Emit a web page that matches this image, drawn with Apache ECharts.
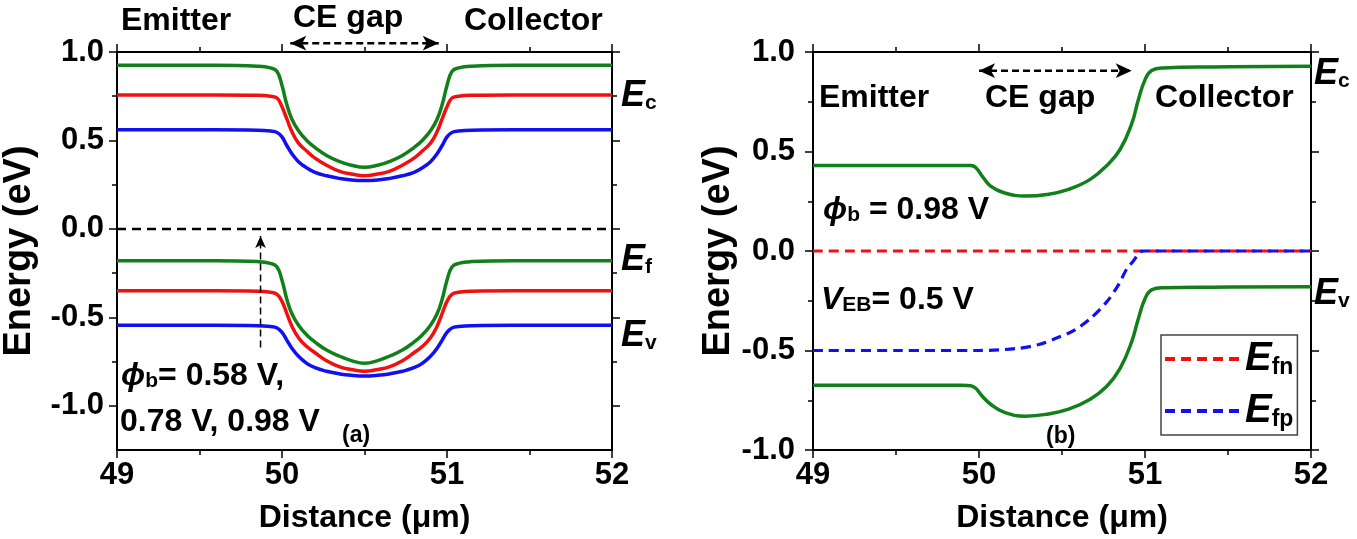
<!DOCTYPE html>
<html>
<head>
<meta charset="utf-8">
<script src="https://cdn.jsdelivr.net/npm/echarts@6/dist/echarts.min.js"></script>
<style>html,body{margin:0;padding:0;background:#fff}#chart{width:1357px;height:539px}</style>
</head>
<body>
<div id="chart"></div>
<script>
// ---- panel (a): bands for phi_b = 0.58 / 0.78 / 0.98 V ----
var xA = [49.0, 49.6, 49.85, 49.93, 49.97, 50.0, 50.03, 50.06, 50.1, 50.15, 50.2, 50.27, 50.35, 50.42, 50.5,
          50.58, 50.65, 50.73, 50.8, 50.85, 50.9, 50.94, 50.97, 51.0, 51.03, 51.07, 51.15, 51.4, 52.0];
var ecGreenA = [0.925, 0.925, 0.92, 0.91, 0.89, 0.81, 0.70, 0.62, 0.555, 0.50, 0.46, 0.415, 0.38, 0.36, 0.348,
                0.36, 0.38, 0.415, 0.46, 0.50, 0.555, 0.62, 0.70, 0.81, 0.89, 0.91, 0.92, 0.925, 0.925];
var ecRedA = [0.757, 0.757, 0.755, 0.75, 0.74, 0.69, 0.62, 0.55, 0.485, 0.44, 0.40, 0.36, 0.325, 0.31, 0.30,
              0.31, 0.325, 0.36, 0.40, 0.44, 0.485, 0.55, 0.62, 0.69, 0.74, 0.75, 0.755, 0.757, 0.757];
var ecBlueA = [0.56, 0.56, 0.558, 0.553, 0.545, 0.52, 0.47, 0.425, 0.38, 0.345, 0.32, 0.30, 0.285, 0.277, 0.274,
               0.277, 0.285, 0.30, 0.32, 0.345, 0.38, 0.425, 0.47, 0.52, 0.545, 0.553, 0.558, 0.56, 0.56];
var evGreenA = [-0.18, -0.18, -0.185, -0.195, -0.215, -0.29, -0.40, -0.48, -0.545, -0.60, -0.64, -0.685, -0.72, -0.745, -0.76,
                -0.745, -0.72, -0.685, -0.64, -0.60, -0.545, -0.48, -0.40, -0.29, -0.215, -0.195, -0.185, -0.18, -0.18];
var evRedA = [-0.35, -0.35, -0.352, -0.358, -0.37, -0.41, -0.48, -0.55, -0.615, -0.665, -0.70, -0.745, -0.78, -0.795, -0.805,
              -0.795, -0.78, -0.745, -0.70, -0.665, -0.615, -0.55, -0.48, -0.41, -0.37, -0.358, -0.352, -0.35, -0.35];
var evBlueA = [-0.545, -0.545, -0.547, -0.552, -0.56, -0.585, -0.63, -0.675, -0.72, -0.76, -0.785, -0.805, -0.82, -0.828, -0.832,
               -0.828, -0.82, -0.805, -0.785, -0.76, -0.72, -0.675, -0.63, -0.585, -0.56, -0.552, -0.547, -0.545, -0.545];
var efX = [49, 52];
var efY = [0, 0];
var gapArrowA = [[50.05, 1.05], [50.95, 1.05]];
var phiArrowA = [[49.87, -0.67], [49.87, -0.04]];

// ---- panel (b): phi_b = 0.98 V, V_EB = 0.5 V ----
var xB = [49.0, 49.5, 49.9, 49.95, 49.98, 50.02, 50.07, 50.15, 50.28, 50.41, 50.54, 50.67, 50.77, 50.85, 50.92,
          50.96, 51.0, 51.04, 51.11, 51.4, 52.0];
var ecB = [0.43, 0.43, 0.43, 0.43, 0.42, 0.375, 0.326, 0.293, 0.276, 0.284, 0.31, 0.36, 0.43, 0.51, 0.64,
           0.76, 0.86, 0.907, 0.92, 0.925, 0.928];
var evB = [-0.675, -0.675, -0.675, -0.677, -0.69, -0.73, -0.77, -0.81, -0.83, -0.82, -0.795, -0.745, -0.68, -0.59, -0.455,
           -0.34, -0.24, -0.195, -0.185, -0.182, -0.18];
var efnX = [49, 52];
var efnY = [0, 0];
var efpX = [49.0, 49.5, 50.0, 50.23, 50.36, 50.46, 50.57, 50.67, 50.77, 50.84, 50.89, 50.93, 50.97, 51.0, 52.0];
var efpY = [-0.5, -0.5, -0.5, -0.49, -0.47, -0.44, -0.40, -0.34, -0.255, -0.17, -0.09, -0.05, -0.005, 0, 0];
var gapArrowB = [[50.0, 0.906], [50.92, 0.906]];

var yMajorA = [-1, -0.5, 0, 0.5, 1];
var yMinorA = [-0.75, -0.25, 0.25, 0.75];

var FONT = '"Liberation Sans", Arial, sans-serif';
var GREEN = '#12801a', RED = '#f01010', BLUE = '#1010f0';

function pairs(xs, ys) {
    var out = [];
    for (var i = 0; i < xs.length; i++) out.push([xs[i], ys[i]]);
    return out;
}

var rich = {
    n: {fontSize: 32, fontWeight: 'bold', fontFamily: FONT, color: '#000'},
    e: {fontSize: 36, fontWeight: 'bold', fontStyle: 'italic', fontFamily: FONT, color: '#000'},
    p: {fontSize: 32, fontWeight: 'bold', fontStyle: 'italic', fontFamily: FONT, color: '#000'},
    s: {fontSize: 21, fontWeight: 'bold', fontFamily: FONT, color: '#000', verticalAlign: 'bottom', lineHeight: 14},
    sm: {fontSize: 23, fontWeight: 'bold', fontFamily: FONT, color: '#000'},
    le: {fontSize: 40, fontWeight: 'bold', fontStyle: 'italic', fontFamily: FONT, color: '#000'},
    ls: {fontSize: 23, fontWeight: 'bold', fontFamily: FONT, color: '#000', verticalAlign: 'bottom', lineHeight: 14}
};

function txt(x, y, s, size) {
    return {type: 'text', left: x, top: y, z: 100,
        style: {text: s, rich: rich, fontSize: size || 32, fontWeight: 'bold', fontFamily: FONT, fill: '#000'}};
}

function band(name, xs, ys, color, xi, yi) {
    return {type: 'line', name: name, xAxisIndex: xi, yAxisIndex: yi, data: pairs(xs, ys),
        symbol: 'none', smooth: 0.45, lineStyle: {color: color, width: 3.5}, itemStyle: {color: color}};
}

function dashed(name, xs, ys, color, xi, yi, z) {
    return {type: 'line', name: name, xAxisIndex: xi, yAxisIndex: yi, data: pairs(xs, ys), z: z,
        symbol: 'none', smooth: 0.3, lineStyle: {color: color, width: 3.2, type: [10, 6]}, itemStyle: {color: color}};
}

function arrow(pts, xi, yi, both, width, size) {
    var a = {value: pts[0], symbol: both ? 'arrow' : 'none', symbolRotate: 90};
    var b = {value: pts[1], symbol: 'arrow', symbolRotate: both ? -90 : 0};
    return {type: 'line', xAxisIndex: xi, yAxisIndex: yi, clip: false, silent: true, z: 5,
        data: [a, b], showSymbol: true, symbolSize: size, itemStyle: {color: '#000'},
        lineStyle: {color: '#000', width: width, type: [7, 4]}};
}

function xAxes(grid, bottom) {
    var base = {gridIndex: grid, type: 'value', min: 49, max: 52, interval: 1,
        axisLine: {show: true, onZero: false, lineStyle: {color: '#000', width: 2}},
        axisTick: {show: true, inside: false, length: 8, lineStyle: {width: 1.5, color: '#000'}},
        minorTick: {show: true, splitNumber: 2, length: 5, lineStyle: {width: 1.5, color: '#000'}},
        splitLine: {show: false}};
    if (bottom) {
        return Object.assign({}, base, {position: 'bottom',
            axisLabel: {show: true, margin: 10, fontSize: 31, fontWeight: 'bold', fontFamily: FONT, color: '#000'},
            name: 'Distance (μm)', nameLocation: 'middle', nameGap: 52,
            nameTextStyle: {fontSize: 32, fontWeight: 'bold', fontFamily: FONT, color: '#000'}});
    }
    return Object.assign({}, base, {position: 'top', axisLabel: {show: false}});
}

var option = {
    animation: false,
    backgroundColor: '#fff',
    grid: [
        {left: 116, top: 52, width: 496, height: 400},
        {left: 813, top: 52, width: 498, height: 400}
    ],
    xAxis: [xAxes(0, true), xAxes(0, false), xAxes(1, true), xAxes(1, false)],
    yAxis: [
        // panel (a) left, major
        {gridIndex: 0, type: 'value', min: -1.25, max: 1, position: 'left',
            axisLine: {show: true, onZero: false, lineStyle: {color: '#000', width: 2}},
            axisTick: {show: true, length: 8, customValues: yMajorA, lineStyle: {width: 1.5, color: '#000'}},
            axisLabel: {show: true, margin: 13, customValues: yMajorA, fontSize: 31, fontWeight: 'bold', fontFamily: FONT, color: '#000',
                formatter: function (v) { return v.toFixed(1); }},
            splitLine: {show: false},
            name: 'Energy (eV)', nameLocation: 'middle', nameGap: 78, nameRotate: 90,
            nameTextStyle: {fontSize: 38, fontWeight: 'bold', fontFamily: FONT, color: '#000'}},
        // panel (a) left, minor
        {gridIndex: 0, type: 'value', min: -1.25, max: 1, position: 'left',
            axisLine: {show: false}, axisLabel: {show: false}, splitLine: {show: false},
            axisTick: {show: true, length: 5, customValues: yMinorA, lineStyle: {width: 1.5, color: '#000'}}},
        // panel (a) right, major
        {gridIndex: 0, type: 'value', min: -1.25, max: 1, position: 'right',
            axisLine: {show: true, onZero: false, lineStyle: {color: '#000', width: 2}},
            axisTick: {show: true, length: 8, customValues: yMajorA, lineStyle: {width: 1.5, color: '#000'}},
            axisLabel: {show: false}, splitLine: {show: false}},
        // panel (a) right, minor
        {gridIndex: 0, type: 'value', min: -1.25, max: 1, position: 'right',
            axisLine: {show: false}, axisLabel: {show: false}, splitLine: {show: false},
            axisTick: {show: true, length: 5, customValues: yMinorA, lineStyle: {width: 1.5, color: '#000'}}},
        // panel (b) left
        {gridIndex: 1, type: 'value', min: -1, max: 1, interval: 0.5, position: 'left',
            axisLine: {show: true, onZero: false, lineStyle: {color: '#000', width: 2}},
            axisTick: {show: true, length: 8, lineStyle: {width: 1.5, color: '#000'}},
            minorTick: {show: true, splitNumber: 2, length: 5, lineStyle: {width: 1.5, color: '#000'}},
            axisLabel: {show: true, margin: 18, fontSize: 31, fontWeight: 'bold', fontFamily: FONT, color: '#000',
                formatter: function (v) { return v.toFixed(1); }},
            splitLine: {show: false},
            name: 'Energy (eV)', nameLocation: 'middle', nameGap: 74, nameRotate: 90,
            nameTextStyle: {fontSize: 38, fontWeight: 'bold', fontFamily: FONT, color: '#000'}},
        // panel (b) right
        {gridIndex: 1, type: 'value', min: -1, max: 1, interval: 0.5, position: 'right',
            axisLine: {show: true, onZero: false, lineStyle: {color: '#000', width: 2}},
            axisTick: {show: true, length: 8, lineStyle: {width: 1.5, color: '#000'}},
            minorTick: {show: true, splitNumber: 2, length: 5, lineStyle: {width: 1.5, color: '#000'}},
            axisLabel: {show: false}, splitLine: {show: false}}
    ],
    legend: {
        left: 1161, top: 335, width: 138, orient: 'vertical',
        data: ['Efn', 'Efp'],
        itemWidth: 75, itemHeight: 14, itemGap: 12,
        itemStyle: {opacity: 0},
        lineStyle: {width: 4},
        borderColor: '#444', borderWidth: 1.5, padding: [4, 4, 4, 2],
        formatter: function (name) { return '{le|E}{ls|' + name.slice(1) + '}'; },
        textStyle: {rich: rich}
    },
    series: [
        band('EcGreenA', xA, ecGreenA, GREEN, 0, 0),
        band('EcRedA', xA, ecRedA, RED, 0, 0),
        band('EcBlueA', xA, ecBlueA, BLUE, 0, 0),
        band('EvGreenA', xA, evGreenA, GREEN, 0, 0),
        band('EvRedA', xA, evRedA, RED, 0, 0),
        band('EvBlueA', xA, evBlueA, BLUE, 0, 0),
        {type: 'line', name: 'EfA', xAxisIndex: 0, yAxisIndex: 0, data: pairs(efX, efY), symbol: 'none',
            lineStyle: {color: '#000', width: 2.5, type: [9, 6]}},
        arrow(gapArrowA, 0, 0, true, 2.5, [11, 16]),
        arrow(phiArrowA, 0, 0, false, 1.5, [8, 12]),
        band('EcB', xB, ecB, GREEN, 2, 4),
        band('EvB', xB, evB, GREEN, 2, 4),
        dashed('Efn', efnX, efnY, RED, 2, 4, 3),
        dashed('Efp', efpX, efpY, BLUE, 2, 4, 4),
        arrow(gapArrowB, 2, 4, true, 2.5, [11, 16])
    ],
    graphic: [
        txt(121, 5, 'Emitter'),
        txt(293, 2, 'CE gap'),
        txt(464, 5, 'Collector'),
        txt(621, 78, '{e|E}{s|c}'),
        txt(621, 242, '{e|E}{s|f}'),
        txt(621, 318, '{e|E}{s|v}'),
        txt(121, 360, '{p|ϕ}{s|b}{n|= 0.58 V,}'),
        txt(120, 406, '0.78 V, 0.98 V'),
        txt(342, 424, '{sm|(a)}'),
        txt(1314, 56, '{e|E}{s|c}'),
        txt(1314, 276, '{e|E}{s|v}'),
        txt(819, 82, 'Emitter'),
        txt(985, 82, 'CE gap'),
        txt(1155, 82, 'Collector'),
        txt(823, 194, '{p|ϕ}{s|b}{n| = 0.98 V}'),
        txt(821, 284, '{p|V}{s|EB}{n|= 0.5 V}'),
        txt(1046, 425, '{sm|(b)}')
    ]
};

var chart = echarts.init(document.getElementById('chart'), null, {renderer: 'canvas'});
chart.setOption(option);
</script>
</body>
</html>
